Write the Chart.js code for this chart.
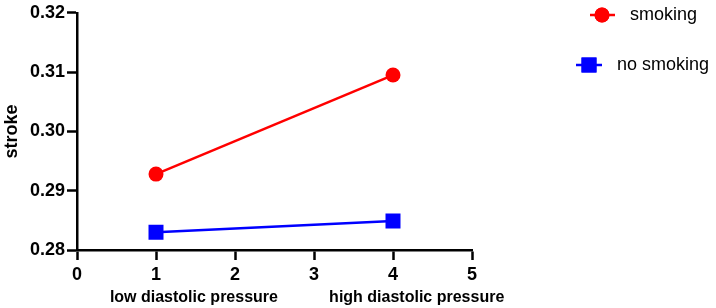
<!DOCTYPE html>
<html>
<head>
<meta charset="utf-8">
<script src="https://cdn.jsdelivr.net/npm/chart.js@4/dist/chart.umd.min.js"></script>
<style>
html,body{margin:0;padding:0;background:#fff;}
#wrap{width:716px;height:308px;position:relative;}
</style>
</head>
<body>
<div id="wrap"><canvas id="c" width="716" height="308"></canvas></div>
<script>
const xValues = [1, 4];
const smoking = [0.2928, 0.3095];
const noSmoking = [0.2830, 0.2849];
const seriesNames = ['smoking', 'no smoking'];
const groupLabels = ['low diastolic pressure', 'high diastolic pressure'];
const groupPositions = [1.48, 4.3];
const yTickValues = [0.28, 0.29, 0.30, 0.31, 0.32];
const xTickValues = [0, 1, 2, 3, 4, 5];

const FONT = "'Liberation Sans', Arial, sans-serif";

const legendPlugin = {
  id: 'customLegend',
  afterDraw(chart) {
    const ctx = chart.ctx;
    const items = [
      {ds: chart.data.datasets[0], lx1: 590, lx2: 615, mx: 602, y: 15, tx: 630},
      {ds: chart.data.datasets[1], lx1: 576, lx2: 602, mx: 589, y: 65, tx: 617}
    ];
    ctx.save();
    items.forEach(it => {
      const ds = it.ds;
      ctx.strokeStyle = ds.borderColor;
      ctx.lineWidth = ds.borderWidth;
      ctx.beginPath();
      ctx.moveTo(it.lx1, it.y);
      ctx.lineTo(it.lx2, it.y);
      ctx.stroke();
      ctx.fillStyle = ds.pointBackgroundColor;
      Chart.helpers.drawPoint(ctx, {pointStyle: ds.pointStyle, rotation: 0, borderWidth: 0, radius: ds.pointRadius}, it.mx, it.y);
      ctx.fill();
      ctx.fillStyle = '#000';
      ctx.font = "18px " + FONT;
      ctx.textBaseline = 'middle';
      ctx.textAlign = 'left';
      ctx.fillText(ds.label, it.tx, it.y);
    });
    ctx.restore();
  }
};

new Chart(document.getElementById('c'), {
  type: 'line',
  data: {
    datasets: [
      {
        label: seriesNames[0],
        data: xValues.map((x, i) => ({x: x, y: smoking[i]})),
        borderColor: '#ff0000',
        backgroundColor: '#ff0000',
        pointBackgroundColor: '#ff0000',
        pointBorderWidth: 0,
        borderWidth: 2.5,
        pointStyle: 'circle',
        pointRadius: 7.5,
        tension: 0
      },
      {
        label: seriesNames[1],
        data: xValues.map((x, i) => ({x: x, y: noSmoking[i]})),
        borderColor: '#0000ff',
        backgroundColor: '#0000ff',
        pointBackgroundColor: '#0000ff',
        pointBorderWidth: 0,
        borderWidth: 2.5,
        pointStyle: 'rect',
        pointRadius: 10.6,
        tension: 0
      }
    ]
  },
  options: {
    responsive: false,
    animation: false,
    devicePixelRatio: 1,
    layout: {padding: {left: 0, top: 9, right: 244, bottom: 0}},
    plugins: {legend: {display: false}, tooltip: {enabled: false}},
    scales: {
      x: {
        type: 'linear',
        position: 'bottom',
        min: 0, max: 5,
        afterBuildTicks: s => { s.ticks = xTickValues.map(v => ({value: v})); },
        afterFit: s => { s.height = 35; },
        grid: {drawOnChartArea: false, drawTicks: true, tickLength: 10, tickColor: '#000', tickWidth: 2.5},
        border: {display: true, color: '#000', width: 2.5},
        ticks: {color: '#000', font: {family: FONT, size: 18, weight: 'bold'}, padding: 4, autoSkip: false, maxRotation: 0,
          callback: v => String(v)}
      },
      x2: {
        type: 'linear',
        position: 'bottom',
        min: 0, max: 5,
        afterBuildTicks: s => { s.ticks = groupPositions.map(v => ({value: v})); },
        afterFit: s => { s.height = 23; },
        grid: {display: false, drawTicks: false},
        border: {display: false},
        ticks: {color: '#000', font: {family: FONT, size: 16, weight: 'bold'}, padding: 3, autoSkip: false, maxRotation: 0,
          callback: (v, i) => groupLabels[i]}
      },
      y: {
        type: 'linear',
        min: 0.28, max: 0.32,
        afterBuildTicks: s => { s.ticks = yTickValues.map(v => ({value: v})); },
        afterFit: s => { s.width = 77; },
        grid: {drawOnChartArea: false, drawTicks: true, tickLength: 10, tickColor: '#000', tickWidth: 2.5},
        border: {display: true, color: '#000', width: 2.5},
        title: {display: true, text: 'stroke', color: '#000', font: {family: FONT, size: 18, weight: 'bold'}, padding: {top: 1, bottom: 0}},
        ticks: {color: '#000', font: {family: FONT, size: 18, weight: 'bold'}, padding: 2,
          callback: v => Number(v).toFixed(2)}
      }
    }
  },
  plugins: [legendPlugin]
});
</script>
</body>
</html>
